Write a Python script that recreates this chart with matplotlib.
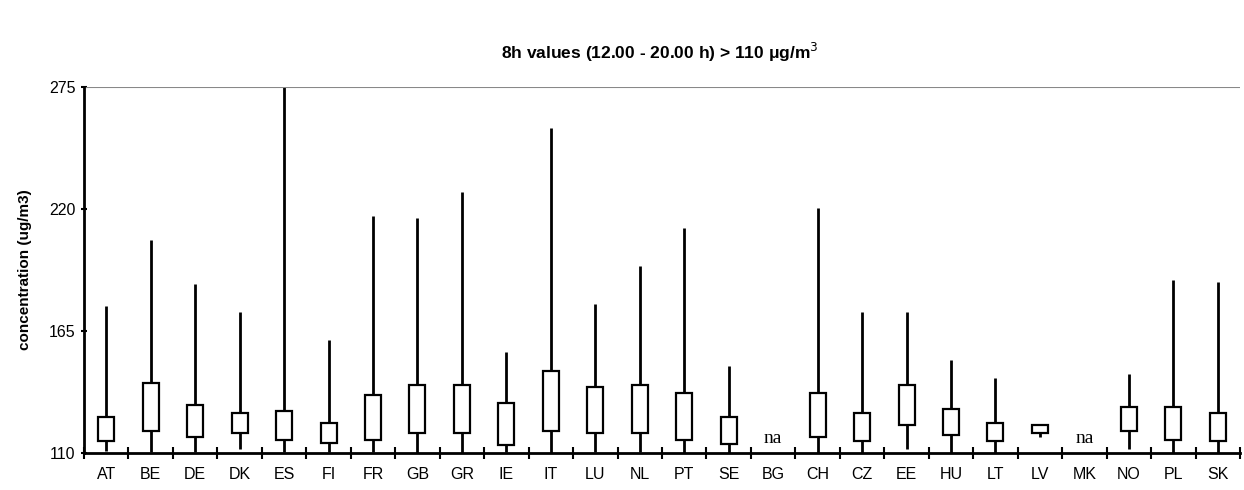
import matplotlib
matplotlib.use("Agg")
import matplotlib.pyplot as plt
import numpy as np

plt.rcParams['font.family'] = ['Liberation Sans', 'DejaVu Sans']

countries = ['AT', 'BE', 'DE', 'DK', 'ES', 'FI', 'FR', 'GB', 'GR', 'IE', 'IT', 'LU', 'NL',
             'PT', 'SE', 'BG', 'CH', 'CZ', 'EE', 'HU', 'LT', 'LV', 'MK', 'NO', 'PL', 'SK']
# None = not available
vmax = [176.4, 206.2, 186.4, 173.7, 275.0, 161.1, 217.0, 216.1, 227.8, 155.7, 256.7, 177.3, 194.5,
        211.6, 149.4, None, 220.6, 173.7, 173.7, 152.1, 144.0, 122.5, None, 145.8, 188.2, 187.3]
q3 = [126.1, 141.6, 131.6, 128.0, 128.8, 123.5, 136.1, 140.7, 140.7, 132.5, 146.8, 139.8, 140.7,
      137.0, 126.1, None, 137.0, 128.0, 140.7, 129.8, 123.5, 122.5, None, 130.7, 130.7, 128.0]
q1 = [115.3, 119.8, 117.1, 119.0, 116.0, 114.5, 116.0, 119.0, 119.0, 113.5, 119.8, 119.0, 119.0,
      116.0, 114.2, None, 117.1, 115.3, 122.5, 118.0, 115.3, 118.9, None, 119.8, 116.0, 115.3]
vmin = [110.8, 110.3, 110.3, 111.8, 110.3, 110.3, 110.3, 110.0, 110.0, 110.3, 110.0, 110.3, 110.3,
        110.0, 110.0, None, 110.0, 110.0, 111.8, 110.0, 110.0, 117.2, None, 111.8, 110.0, 110.0]

fig = plt.figure(figsize=(12.44, 4.90), dpi=100)
ax = fig.add_axes([84/1244, 1-453/490, 1156/1244, 366/490])

x = np.arange(len(countries))
for i in x:
    if q1[i] is None:
        ax.text(i, 112.5, 'na', ha='center', va='bottom', fontsize=14, family='Liberation Serif')
        continue
    ax.vlines(i, vmin[i], q1[i], color='black', lw=2)
    ax.vlines(i, q3[i], vmax[i], color='black', lw=2)
    ax.bar(i, q3[i]-q1[i], bottom=q1[i], width=0.36, facecolor='white', edgecolor='black', lw=1.6, zorder=3)

ax.set_xlim(-0.5, len(countries)-0.5)
ax.set_ylim(110, 275)
ax.set_yticks([110, 165, 220, 275])
ax.axhline(275, color='#888888', lw=1.5)
ax.set_xticks(x)
ax.set_xticklabels(countries, fontsize=11.5)
ax.set_xticks(np.arange(-0.5, len(countries)), minor=True)
ax.tick_params(axis='x', which='major', length=0, pad=10)
ax.tick_params(axis='x', which='minor', length=8, width=1.5, direction='inout')
ax.tick_params(axis='y', labelsize=11.5, length=5, width=1.5, direction='inout')
for s in ['top', 'right']:
    ax.spines[s].set_visible(False)
for s in ['left', 'bottom']:
    ax.spines[s].set_linewidth(2)
ax.set_ylabel('concentration (ug/m3)', fontsize=11, fontweight='bold', labelpad=12)
fig.text(0.53, 1-52/490, '8h values (12.00 - 20.00 h) > 110 μg/m$^3$', ha='center', va='center',
         fontsize=12.5, fontweight='bold')

fig.savefig('out.png', dpi=100)
